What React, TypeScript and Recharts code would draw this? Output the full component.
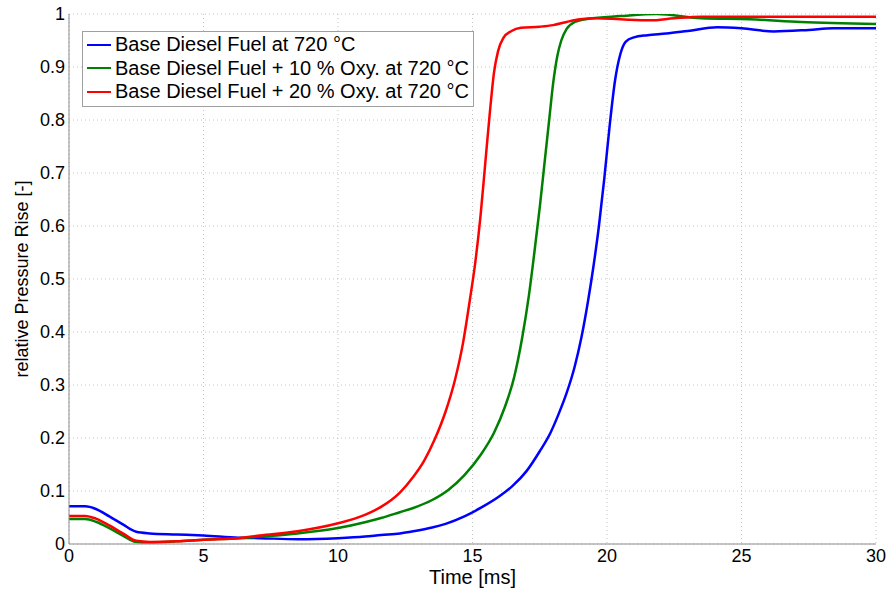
import React from 'react';
import { LineChart, Line, XAxis, YAxis, CartesianGrid, Legend } from 'recharts';

const seriesNames = [
  'Base Diesel Fuel at 720 °C',
  'Base Diesel Fuel + 10 % Oxy. at 720 °C',
  'Base Diesel Fuel + 20 % Oxy. at 720 °C',
];
const seriesColors = ['#0000ff', '#008000', '#ff0000'];

const xTicks = [0, 5, 10, 15, 20, 25, 30];
const yTicks = [0, 0.1, 0.2, 0.3, 0.4, 0.5, 0.6, 0.7, 0.8, 0.9, 1];

const blueTime = [0, 0.6, 1, 1.5, 2, 2.5, 3, 4, 5, 6.3, 7.1, 8.5, 10, 11, 11.6, 12.3, 12.8, 13.5, 14, 14.7, 15.3, 16, 16.5, 17, 17.5, 17.9, 18.2, 18.5, 18.8, 19.05, 19.3, 19.5, 19.7, 19.9, 20.1, 20.3, 20.5, 20.7, 21, 21.5, 22.2, 23, 24.1, 25, 26.2, 27.5, 28.4, 30];
const blueValues = [0.071, 0.071, 0.066, 0.052, 0.037, 0.023, 0.02, 0.018, 0.016, 0.012, 0.011, 0.009, 0.011, 0.014, 0.017, 0.02, 0.024, 0.031, 0.038, 0.052, 0.068, 0.09, 0.11, 0.137, 0.175, 0.21, 0.245, 0.285, 0.335, 0.39, 0.46, 0.525, 0.6, 0.69, 0.79, 0.875, 0.925, 0.948, 0.956, 0.96, 0.963, 0.968, 0.975, 0.973, 0.967, 0.97, 0.973, 0.973];

const greenTime = [0, 0.6, 1, 1.5, 2, 2.5, 3, 4, 5, 6.3, 7.1, 8.5, 10, 11, 11.6, 12.3, 12.8, 13.5, 14.1, 14.7, 15.3, 15.8, 16.2, 16.55, 16.85, 17.1, 17.3, 17.5, 17.68, 17.85, 18, 18.15, 18.3, 18.5, 18.8, 19.3, 20.5, 21.85, 23.5, 25.3, 27.2, 30];
const greenValues = [0.047, 0.047, 0.042, 0.03, 0.016, 0.004, 0.003, 0.005, 0.008, 0.011, 0.014, 0.02, 0.03, 0.041, 0.049, 0.06, 0.068, 0.083, 0.102, 0.13, 0.168, 0.21, 0.258, 0.315, 0.39, 0.47, 0.55, 0.635, 0.72, 0.8, 0.87, 0.92, 0.95, 0.972, 0.985, 0.991, 0.996, 1.0, 0.992, 0.99, 0.985, 0.981];

const redTime = [0, 0.6, 1, 1.5, 2, 2.5, 3, 4, 5, 6.3, 7.1, 8.5, 10, 11, 11.6, 12.3, 12.8, 13.2, 13.6, 14, 14.35, 14.65, 14.9, 15.1, 15.3, 15.46, 15.63, 15.8, 15.95, 16.15, 16.45, 16.8, 17.5, 18, 18.5, 19, 19.6, 20.5, 21.6, 22.5, 23.5, 30];
const redValues = [0.053, 0.053, 0.048, 0.035, 0.02, 0.006, 0.004, 0.005, 0.008, 0.011, 0.016, 0.024, 0.039, 0.055, 0.07, 0.097, 0.127, 0.157, 0.198, 0.25, 0.31, 0.38, 0.46, 0.53, 0.62, 0.71, 0.806, 0.89, 0.93, 0.955, 0.968, 0.974, 0.976, 0.979, 0.985, 0.99, 0.992, 0.99, 0.988, 0.992, 0.995, 0.995];

const toData = (ts: number[], vs: number[]) => ts.map((t, i) => ({ t, v: vs[i] }));
const blueData = toData(blueTime, blueValues);
const greenData = toData(greenTime, greenValues);
const redData = toData(redTime, redValues);
const seriesData = [blueData, greenData, redData];

const FONT = '"Liberation Sans", Arial, Helvetica, sans-serif';
const AXIS = '#8c8c8c';

const fmtY = (v: number) => (v === 0 ? '0' : v === 1 ? '1' : v.toFixed(1));

const LegendBox = () => (
  <div
    style={{
      border: '1px solid #a0a0a0',
      background: '#fff',
      padding: '1px 0 2px 4px',
      width: 392,
      boxSizing: 'border-box',
      fontFamily: FONT,
      fontSize: 20,
      color: '#000',
      whiteSpace: 'nowrap',
    }}
  >
    {seriesNames.map((n, i) => (
      <div key={n} style={{ display: 'flex', alignItems: 'center', height: 23.5 }}>
        <div style={{ width: 24, height: 2, background: seriesColors[i], marginRight: 4 }} />
        <span>{n}</span>
      </div>
    ))}
  </div>
);

export default function App() {
  return (
    <div style={{ position: 'absolute', left: 0, top: 0 }}>
      <LineChart width={886} height={590} margin={{ top: 14, right: 10, bottom: 0, left: 0 }}>
        <CartesianGrid strokeDasharray="1 3" stroke="#c4c4c4" />
        <XAxis
          type="number"
          dataKey="t"
          domain={[0, 30]}
          ticks={xTicks}
          allowDataOverflow
          height={46}
          tickLine={false}
          tickSize={0}
          tickMargin={5}
          axisLine={{ stroke: AXIS }}
          tick={{ fill: '#000', fontSize: 18, fontFamily: FONT }}
          label={{
            content: () => (
              <text x={472.5} y={584} textAnchor="middle" fill="#000" fontSize={20} fontFamily={FONT}>
                Time [ms]
              </text>
            ),
          }}
        />
        <XAxis xAxisId="bt" type="number" dataKey="t" domain={[0, 30]} ticks={xTicks} allowDataOverflow mirror height={0} tick={false} tickSize={5} axisLine={false} tickLine={{ stroke: AXIS }} />
        <XAxis xAxisId="tp" orientation="top" type="number" dataKey="t" domain={[0, 30]} ticks={xTicks} allowDataOverflow mirror height={0} tick={false} tickSize={5} axisLine={{ stroke: AXIS }} tickLine={{ stroke: AXIS }} />
        <YAxis
          type="number"
          domain={[0, 1]}
          ticks={yTicks}
          allowDataOverflow
          width={69}
          tickLine={false}
          tickSize={0}
          tickMargin={4}
          tickFormatter={fmtY}
          axisLine={{ stroke: AXIS }}
          tick={{ fill: '#000', fontSize: 18, fontFamily: FONT }}
          label={{
            content: () => (
              <text x={22} y={279} transform="rotate(-90 22 279)" textAnchor="middle" dominantBaseline="central" fill="#000" fontSize={18} fontFamily={FONT}>
                relative Pressure Rise [-]
              </text>
            ),
          }}
        />
        <YAxis yAxisId="lt" type="number" domain={[0, 1]} ticks={yTicks} allowDataOverflow mirror width={0} tick={false} tickSize={5} axisLine={false} tickLine={{ stroke: AXIS }} />
        <YAxis yAxisId="rt" orientation="right" type="number" domain={[0, 1]} ticks={yTicks} allowDataOverflow mirror width={0} tick={false} tickSize={5} axisLine={{ stroke: AXIS }} tickLine={{ stroke: AXIS }} />
        {seriesData.map((d, i) => (
          <Line
            key={seriesNames[i]}
            data={d}
            dataKey="v"
            name={seriesNames[i]}
            type="monotone"
            stroke={seriesColors[i]}
            strokeWidth={2.5}
            dot={false}
            activeDot={false}
            isAnimationActive={false}
          />
        ))}
        <Legend
          layout="vertical"
          align="center"
          verticalAlign="middle"
          wrapperStyle={{ left: 82, top: 31, width: 'auto' }}
          content={() => <LegendBox />}
        />
      </LineChart>
    </div>
  );
}
